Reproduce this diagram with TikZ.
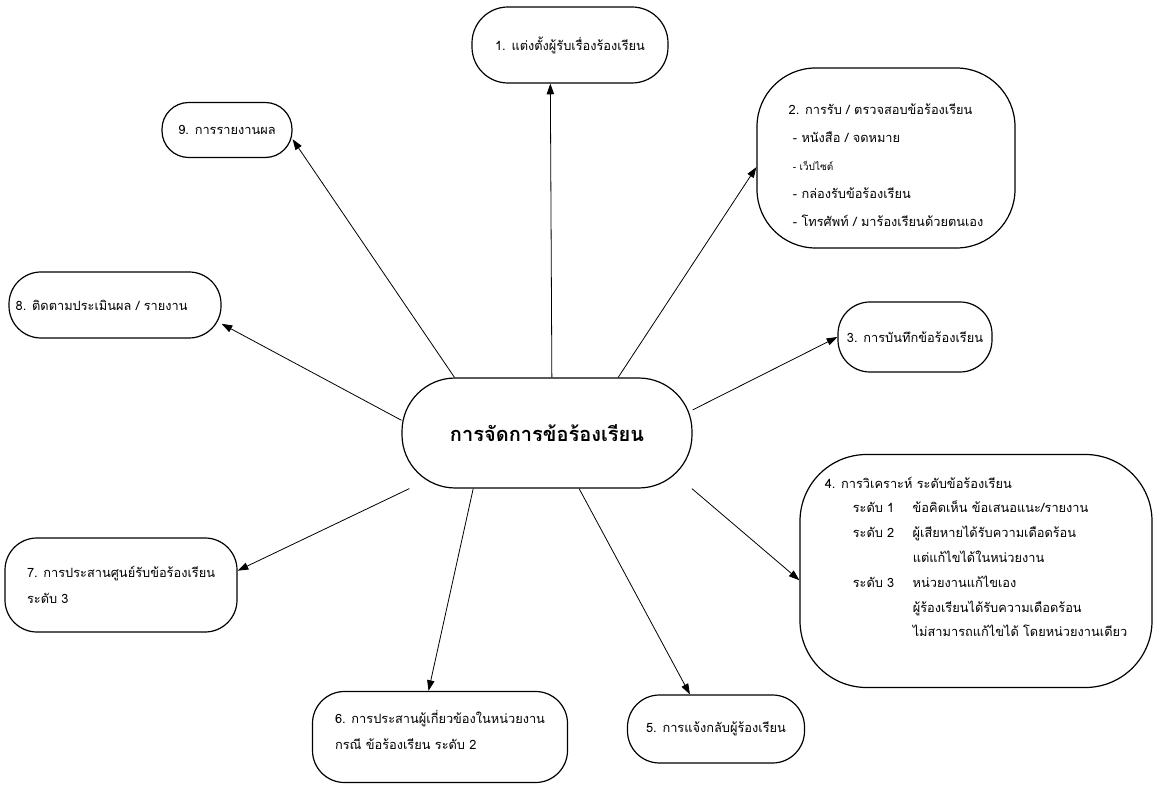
\documentclass[tikz,border=0pt]{standalone}
\usepackage{fontspec}
\setmainfont[Script=Thai]{Loma}
\usetikzlibrary{arrows.meta}

\begin{document}
\begin{tikzpicture}[x=0.75pt,y=0.75pt,yscale=-1,xscale=1,
	tbox/.style={draw, line width=0.9pt, rounded corners=24pt, align=left, inner sep=0.75pt, font=\fontsize{9.6}{20}\selectfont},
	boxsize/.style 2 args={minimum width=#1*0.75pt, minimum height=#2*0.75pt},
	conn/.style={line width=0.6pt, -{Triangle[length=8pt,width=5.5pt]}}]
	\useasboundingbox (0,0) rectangle (1153,787);

	% Text Node
	\node [tbox, boxsize={290}{110}, rounded corners=40pt, font=\fontsize{15}{20}\selectfont\bfseries] (c) at (547,433) {การจัดการข้อร้องเรียน};
	% Text Node
	\node [tbox, boxsize={196}{76}, rounded corners=27pt] (n1) at (570,45) {1. แต่งตั้งผู้รับเรื่องร้องเรียน};
	% Text Node
	\node [tbox, boxsize={258}{180}, rounded corners=44pt, font=\fontsize{9.6}{21}\selectfont] (n2) at (886,158) {\rule{0pt}{19pt}2. การรับ / ตรวจสอบข้อร้องเรียน\\
		\ - หนังสือ / จดหมาย\\
		\ {\fontsize{7.5}{20}\selectfont - เว็ปไซต์}\\
		\ - กล่องรับข้อร้องเรียน\\
		\ - โทรศัพท์ / มาร้องเรียนด้วยตนเอง};
	% Text Node
	\node [tbox, boxsize={154}{70}] (n3) at (915,337) {3. การบันทึกข้อร้องเรียน};
	% Text Node
	\node [tbox, boxsize={352}{233}, rounded corners=50pt, font=\fontsize{9.6}{18.6}\selectfont] (n4) at (976,571) {4. การวิเคราะห์ ระดับข้อร้องเรียน\\
		\hspace*{21pt}\makebox[45pt][l]{ระดับ 1}ข้อคิดเห็น ข้อเสนอแนะ/รายงาน\\
		\hspace*{21pt}\makebox[45pt][l]{ระดับ 2}ผู้เสียหายได้รับความเดือดร้อน\\
		\hspace*{66pt}แต่แก้ไขได้ในหน่วยงาน\\
		\hspace*{21pt}\makebox[45pt][l]{ระดับ 3}หน่วยงานแก้ไขเอง\\
		\hspace*{66pt}ผู้ร้องเรียนได้รับความเดือดร้อน\\
		\hspace*{66pt}ไม่สามารถแก้ไขได้ โดยหน่วยงานเดียว\\[2.5pt]
		\mbox{}};
	% Text Node
	\node [tbox, boxsize={177}{68}] (n5) at (716,729) {5. การแจ้งกลับผู้ร้องเรียน};
	% Text Node
	\node [tbox, boxsize={255}{91}] (n6) at (440,737) {6. การประสานผู้เกี่ยวข้องในหน่วยงาน\\กรณี ข้อร้องเรียน ระดับ 2\\[-9.5pt]\mbox{}};
	% Text Node
	\node [tbox, boxsize={232}{94}] (n7) at (121,585) {7. การประสานศูนย์รับข้อร้องเรียน\\ระดับ 3};
	% Text Node
	\node [tbox, boxsize={212}{66}] (n8) at (115,305) {8. ติดตามประเมินผล / รายงาน\hspace*{20pt}};
	% Text Node
	\node [tbox, boxsize={130}{55}, rounded corners=20pt] (n9) at (227,130) {9. การรายงานผล};

	% Connection
	\draw [conn] (c.85) -- (n1.-117);
	% Connection
	\draw [conn] (c.38) -- (n2.184);
	% Connection
	\draw [conn] (c.9) -- (n3.west);
	% Connection
	\draw [conn] (c.-21) -- (n4.183);
	% Connection
	\draw [conn] (c.-60) -- (n5.127);
	% Connection
	\draw [conn] (c.217) -- (n6.104);
	% Connection
	\draw [conn] (c.202) -- (n7.7);
	% Connection
	\draw [conn] (c.175) -- (n8.-10);
	% Connection
	\draw [conn] (c.149) -- (n9.-8);

\end{tikzpicture}
\end{document}
